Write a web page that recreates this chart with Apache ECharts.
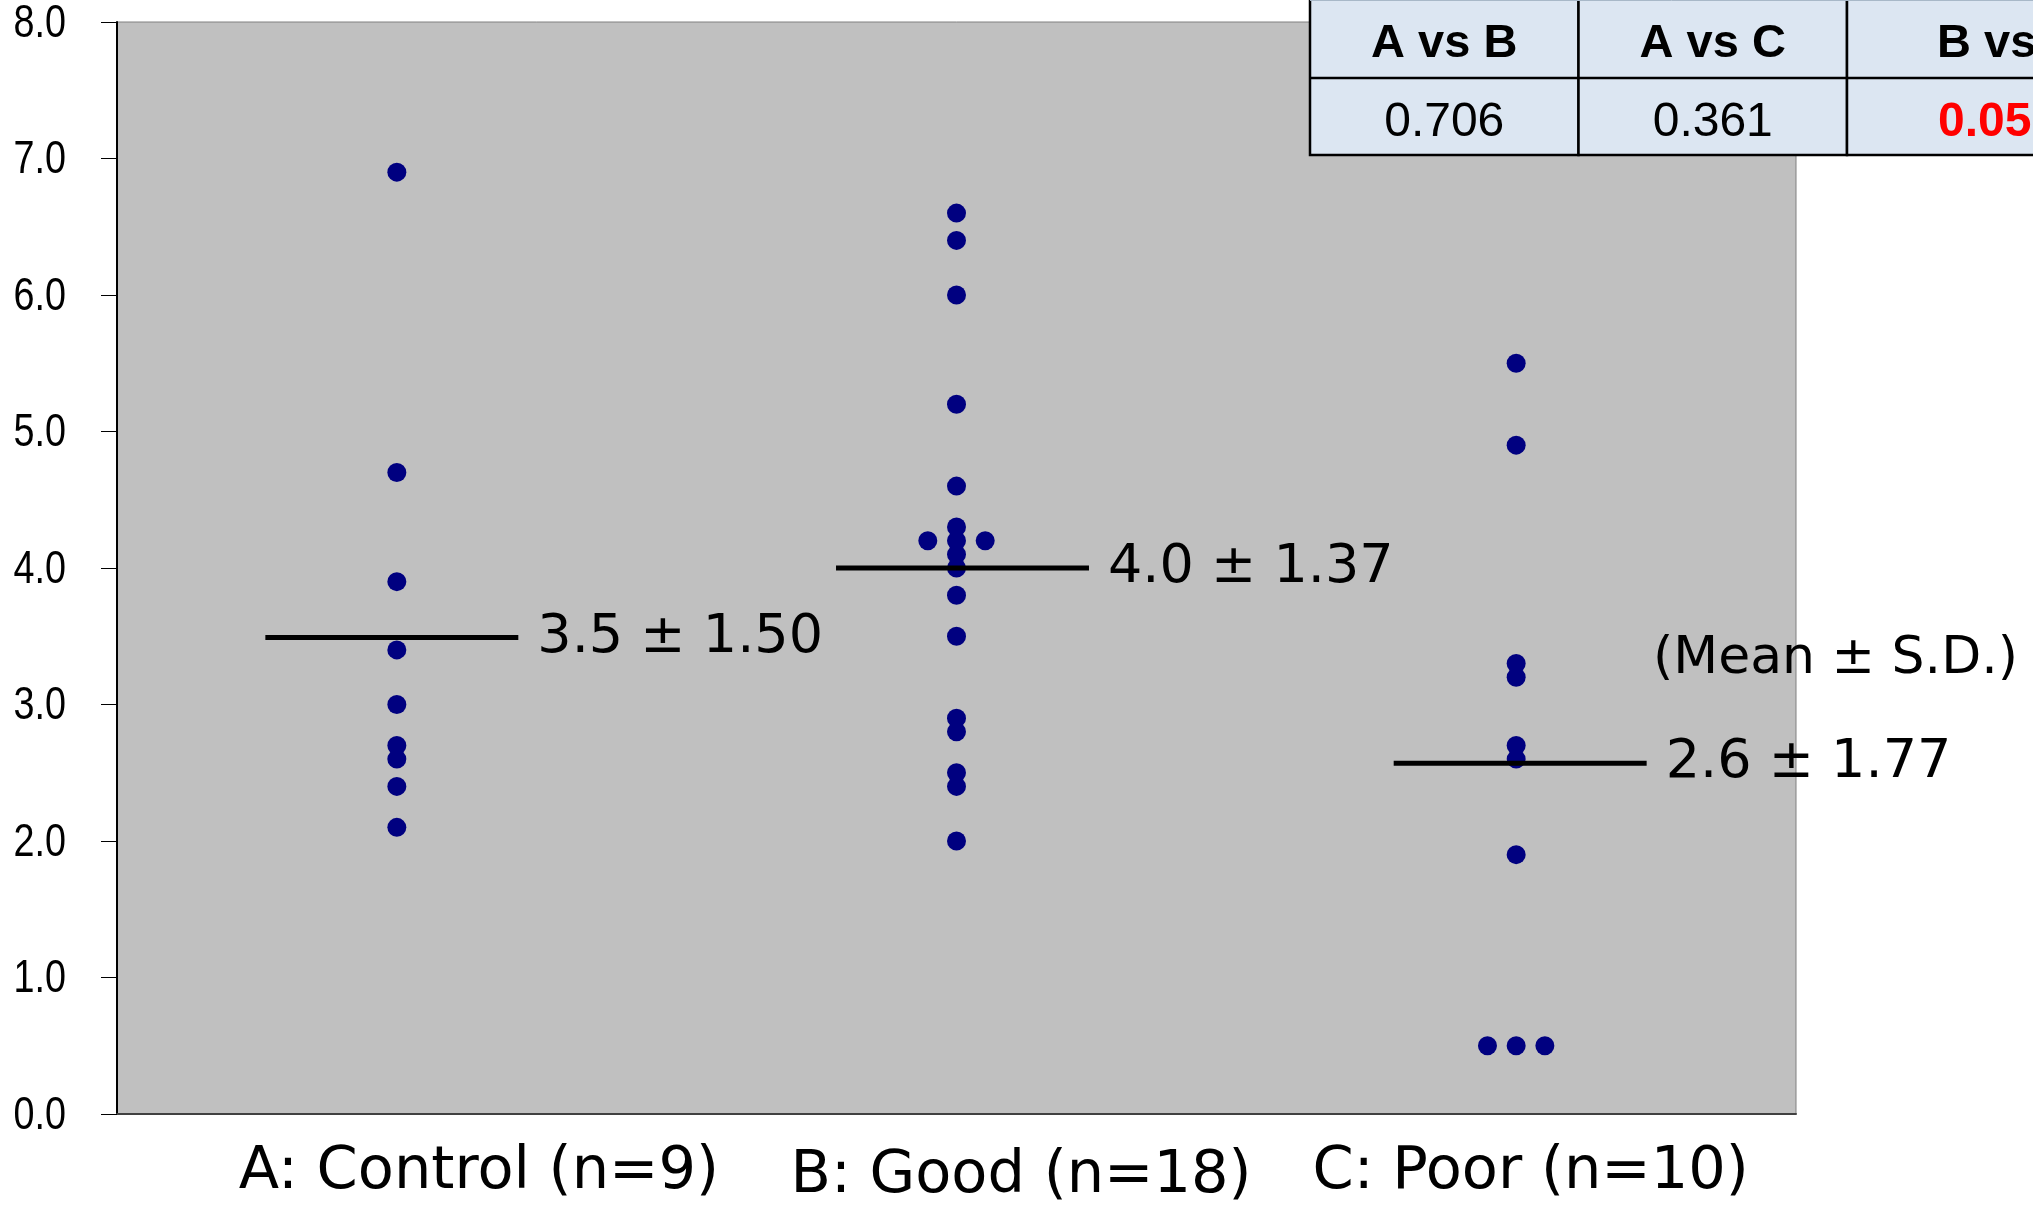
<!DOCTYPE html>
<html>
<head>
<meta charset="utf-8">
<script src="https://cdn.jsdelivr.net/npm/echarts@6/dist/echarts.min.js"></script>
<style>html,body{margin:0;padding:0;background:#fff}#c{width:2033px;height:1208px}</style>
</head>
<body>
<div id="c"></div>
<script>
// ---- data ----
const categories = ['A: Control (n=9)', 'B: Good (n=18)', 'C: Poor (n=10)'];
const groupA = [6.9, 4.7, 3.9, 3.4, 3.0, 2.7, 2.6, 2.4, 2.1];
const groupB = [6.6, 6.4, 6.0, 5.2, 4.6, 4.3, 4.2, 4.2, 4.2, 4.1, 4.0, 3.8, 3.5, 2.9, 2.8, 2.5, 2.4, 2.0];
const groupC = [5.5, 4.9, 3.3, 3.2, 2.7, 2.6, 1.9, 0.5, 0.5, 0.5];
const meanValues = [3.49, 4.0, 2.57];
const meanLabels = ['3.5 ± 1.50', '4.0 ± 1.37', '2.6 ± 1.77'];
const yTicks = [0, 1, 2, 3, 4, 5, 6, 7, 8];
const tableHeaders = ['A vs B', 'A vs C', 'B vs C'];
const tableValues = ['0.706', '0.361', '0.05'];
const noteText = '(Mean ± S.D.)';

// ---- layout constants (not data) ----
const GRID_LEFT = 117;
const DUP_SPACING = 28.7;
const MEAN_LINE_SHIFT = [-5, 6, 4];   // small horizontal nudges of the mean bars
const labelPads = [[9, 0, 0, 164], [13, 0, 0, 129], [9, 0, 0, 29]];

// ---- build scatter points, spreading identical values sideways ----
const groups = [groupA, groupB, groupC];
const points = [];
groups.forEach((vals, gi) => {
  const counts = {}, seen = {};
  vals.forEach(v => { counts[v] = (counts[v] || 0) + 1; });
  vals.forEach(v => {
    const k = counts[v];
    const i = seen[v] || 0; seen[v] = i + 1;
    const off = k > 1 ? (i - (k - 1) / 2) * DUP_SPACING : 0;
    points.push({ value: [gi, v], symbolOffset: [off, 0] });
  });
});
const meanData = meanValues.map((m, i) => [i, m]);
const tickData = yTicks.map(v => [0, v]);

const chart = echarts.init(document.getElementById('c'), null, { renderer: 'canvas' });

const rich = {};
labelPads.forEach((p, i) => {
  rich['c' + i] = { fontFamily: 'DejaVu Sans', fontSize: 59, color: '#000', padding: p };
});

// table graphics
const tbl = [];
const tLeft = 1310, colW = 268.5, rowMid = 78, rowBot = 155;
for (let c = 0; c < 3; c++) {
  const x0 = tLeft + c * colW;
  tbl.push({ type: 'rect', shape: { x: x0, y: -3, width: colW, height: rowBot + 3 },
    style: { fill: '#DCE6F2', stroke: '#000', lineWidth: 2.5 }, z: 100 });
  tbl.push({ type: 'line', shape: { x1: x0, y1: rowMid, x2: x0 + colW, y2: rowMid },
    style: { stroke: '#000', lineWidth: 2.5 }, z: 101 });
}
tbl.push({ type: 'line', shape: { x1: tLeft, y1: 0.5, x2: 2033, y2: 0.5 },
  style: { stroke: '#A8B8C8', lineWidth: 1 }, z: 101 });
tableHeaders.forEach((h, c) => {
  const last = c === 2;
  tbl.push({ type: 'text', z: 102,
    style: { text: h, x: last ? 1937 : tLeft + c * colW + colW / 2, y: 44,
      align: last ? 'left' : 'center', verticalAlign: 'middle',
      font: 'bold 47px "Liberation Sans", Arial, sans-serif', fill: '#000' } });
});
tableValues.forEach((v, c) => {
  const last = c === 2;
  tbl.push({ type: 'text', z: 102,
    style: { text: v, x: last ? 1938 : tLeft + c * colW + colW / 2, y: 123,
      align: last ? 'left' : 'center', verticalAlign: 'middle',
      font: (last ? 'bold ' : '') + '48px "Liberation Sans", Arial, sans-serif',
      fill: last ? '#FF0000' : '#000' } });
});
tbl.push({ type: 'text', z: 102,
  style: { text: noteText, x: 1653, y: 659, align: 'left', verticalAlign: 'middle',
    font: '52px "DejaVu Sans", sans-serif', fill: '#000' } });

chart.setOption({
  animation: false,
  backgroundColor: '#ffffff',
  grid: { left: GRID_LEFT, right: 237, top: 22, bottom: 94, show: true,
    backgroundColor: '#C0C0C0', borderColor: '#808080', borderWidth: 1 },
  xAxis: {
    type: 'category', data: categories, boundaryGap: true,
    axisLine: { show: true, lineStyle: { color: '#404040', width: 2 } },
    axisTick: { show: false },
    splitLine: { show: false },
    axisLabel: {
      margin: 20, interval: 0,
      formatter: (v, i) => '{c' + i + '|' + v + '}',
      rich: rich
    }
  },
  yAxis: {
    type: 'value', min: yTicks[0], max: yTicks[yTicks.length - 1], interval: 1,
    axisLine: { show: true, lineStyle: { color: '#000', width: 2 } },
    axisTick: { show: true, inside: false, length: 16, lineStyle: { color: '#000', width: 1 } },
    splitLine: { show: false },
    axisLabel: { show: false }
  },
  series: [
    {
      type: 'scatter', data: points, symbol: 'circle', symbolSize: 19,
      itemStyle: { color: '#000080', opacity: 1 }, z: 3
    },
    {
      type: 'custom', data: meanData, z: 5,
      encode: { x: 0, y: 1 },
      renderItem: (params, api) => {
        const c = api.coord([api.value(0), api.value(1)]);
        const bw = api.size([1, 0])[0];
        const half = bw * 0.226;
        const cx = c[0] + MEAN_LINE_SHIFT[params.dataIndex];
        return {
          type: 'group',
          children: [
            { type: 'line', shape: { x1: cx - half, y1: c[1], x2: cx + half, y2: c[1] },
              style: { stroke: '#000', lineWidth: 5 } },
            { type: 'text', style: { text: meanLabels[params.dataIndex], x: cx + half + 19, y: c[1],
                align: 'left', verticalAlign: 'middle',
                font: '54px "DejaVu Sans", sans-serif', fill: '#000' } }
          ]
        };
      }
    },
    {
      // y-axis tick labels, placed by the y scale, drawn slightly condensed
      type: 'custom', data: tickData, z: 6, clip: false,
      encode: { x: 0, y: 1 },
      renderItem: (params, api) => {
        const v = api.value(1);
        const y = api.coord([0, v])[1];
        return {
          type: 'text', x: GRID_LEFT - 51, y: y + 2, scaleX: 0.82,
          style: { text: v.toFixed(1), x: 0, y: 0, align: 'right', verticalAlign: 'middle',
            font: '46px "Liberation Sans", Arial, sans-serif', fill: '#000' }
        };
      }
    }
  ],
  graphic: tbl
});
</script>
</body>
</html>
